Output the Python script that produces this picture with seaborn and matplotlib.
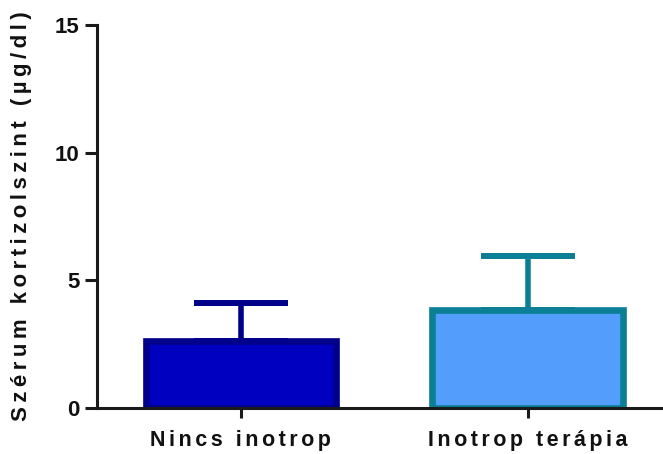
import matplotlib
matplotlib.use("Agg")
import matplotlib.pyplot as plt
import seaborn as sns
import pandas as pd

# Serum cortisol by group (mean and upper SD)
groups = ["Nincs inotrop", "Inotrop terápia"]
means = [2.62, 3.84]
sd_upper = [1.48, 2.11]
y_label = "Szérum kortizolszint (µg/dl)"

fill_colors = ["#0000C0", "#539DFC"]
edge_colors = ["#00008A", "#0A7F96"]


def tracked(text, gap):
    """Widen letter spacing by putting a narrow space between characters."""
    return gap.join(text)


sns.set_theme(style="ticks")
plt.rcParams["font.family"] = ["Liberation Sans", "DejaVu Sans"]

df = pd.DataFrame({"group": groups, "mean": means})

fig = plt.figure(figsize=(6.63, 4.54), dpi=100)
ax = fig.add_axes([0.146, 0.1013, 0.853, 0.8437])

sns.barplot(data=df, x="group", y="mean", hue="group", palette=fill_colors,
            saturation=1, width=0.663, errorbar=None, legend=False, ax=ax,
            zorder=3)

for patch, ec in zip(ax.patches, edge_colors):
    patch.set_edgecolor(ec)
    patch.set_linewidth(4.8)
    patch.set_joinstyle("miter")

for i, (m, e) in enumerate(zip(means, sd_upper)):
    ax.errorbar(i, m, yerr=[[0], [e]], fmt="none", ecolor=edge_colors[i],
                elinewidth=4.0, capsize=34, capthick=4.3, zorder=2)

ax.set_xlim(-0.502, 1.47)
ax.set_ylim(0, 15)
ax.set_yticks([0, 5, 10, 15])
ax.set_xticks(range(len(groups)))
ax.set_xticklabels([tracked(g, "\u200a\u200a") for g in groups],
                   fontsize=15.5, fontweight="bold")

ax.set_xlabel("")
ax.set_ylabel(tracked(y_label, "\u2009"), fontsize=16, fontweight="bold",
              color="#111111", labelpad=16)

for lbl in ax.get_yticklabels():
    lbl.set_fontsize(16)
    lbl.set_fontweight("bold")

ax.tick_params(axis="y", length=8.5, width=2.2, color="#1a1a1a",
               labelcolor="#111111", pad=4)
ax.tick_params(axis="x", length=7.5, width=2.2, color="#1a1a1a",
               labelcolor="#111111", pad=8)

for side in ["top", "right"]:
    ax.spines[side].set_visible(False)
for side in ["left", "bottom"]:
    ax.spines[side].set_linewidth(2.2)
    ax.spines[side].set_color("#1a1a1a")
    ax.spines[side].set_zorder(5)

fig.savefig("out.png", dpi=100)
